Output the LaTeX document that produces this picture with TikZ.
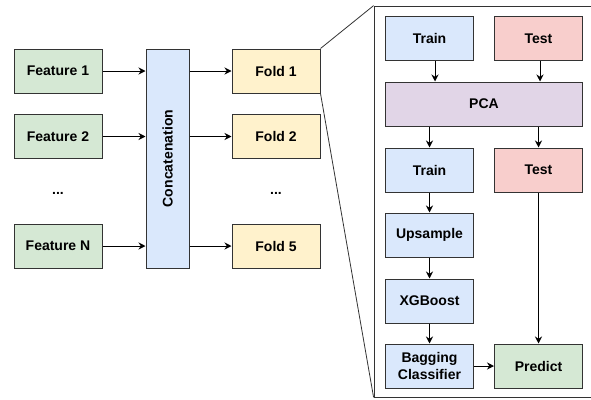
\documentclass[tikz,border=0pt]{standalone}
\usepackage{fontspec}
\setmainfont{Liberation Sans}
\usetikzlibrary{arrows.meta}
\definecolor{fgreen}{HTML}{D5E8D4}
\definecolor{fblue}{HTML}{DAE8FC}
\definecolor{fyellow}{HTML}{FFF2CC}
\definecolor{fred}{HTML}{F8CECC}
\definecolor{fpurple}{HTML}{E1D5E7}
\definecolor{edge}{HTML}{333333}
\tikzset{
  labelfont/.style={font=\fontsize{14}{16.5}\selectfont\bfseries},
  box/.style={draw=edge, line width=1pt, inner sep=0pt, align=center,
    labelfont, text=black},
  small/.style={box, minimum width=88pt, minimum height=44pt},
  feat/.style={small, fill=fgreen},
  fold/.style={small, fill=fyellow},
  trainbox/.style={small, fill=fblue},
  testbox/.style={small, fill=fred},
  predbox/.style={small, fill=fgreen},
  arr/.style={draw=black, line width=1pt, -{Stealth[length=7pt,width=7pt]}},
  zoomline/.style={draw=edge, line width=0.8pt},
  dots/.style={labelfont}
}
\begin{document}
\begin{tikzpicture}[x=1pt,y=-1pt]
\useasboundingbox (0,0) rectangle (591,399);

% feature blocks
\node[feat] (f1) at (58,71) {Feature 1};
\node[feat] (f2) at (58,136.5) {Feature 2};
\node[dots] (fd) at (58,193) {...};
\node[feat] (fn) at (58,246) {Feature N};

% concatenation bar
\node[box, fill=fblue, minimum width=43pt, minimum height=219pt] (cat) at (167.5,158.5) {};
\node[rotate=90, labelfont] (catl) at (cat) {Concatenation};

% folds
\node[fold] (o1) at (276,71) {Fold 1};
\node[fold] (o2) at (276,136.5) {Fold 2};
\node[dots] (od) at (276,193) {...};
\node[fold] (o5) at (276,246) {Fold 5};

\foreach \a in {f1,f2,fn} \draw[arr] (\a.east) -- (\a.east -| cat.west);
\foreach \b in {o1,o2,o5} \draw[arr] (cat.east |- \b.west) -- (\b.west);

% detail panel for one fold
\node[draw=edge, line width=0.8pt, minimum width=219pt, minimum height=391pt, inner sep=0pt] (panel) at (483.5,201.5) {};
\draw[zoomline] (o1.north east) -- (panel.north west);
\draw[zoomline] (o1.south east) -- (panel.south west);

\node[trainbox] (tr1) at (429.5,38.5) {Train};
\node[testbox] (te1) at (538.5,38.5) {Test};
\node[box, fill=fpurple, minimum width=197pt, minimum height=44pt] (pca) at (484,104) {PCA};
\node[trainbox] (tr2) at (429.5,170) {Train};
\node[testbox] (te2) at (538.5,170) {Test};
\node[trainbox] (up) at (429.5,235) {Upsample};
\node[trainbox] (xgb) at (429.5,301) {XGBoost};
\node[trainbox] (bag) at (429.5,366) {Bagging\\Classifier};
\node[predbox] (pred) at (538.5,366) {Predict};

\draw[arr] ([xshift=5.5pt]tr1.south) -- ([xshift=5.5pt]tr1.south |- pca.north);
\draw[arr] ([xshift=1.5pt]te1.south) -- ([xshift=1.5pt]te1.south |- pca.north);
\draw[arr] (pca.south -| tr2.north) -- (tr2.north);
\draw[arr] (pca.south -| te2.north) -- (te2.north);
\draw[arr] (tr2) -- (up);
\draw[arr] (up) -- (xgb);
\draw[arr] (xgb) -- (bag);
\draw[arr] (te2) -- (pred);
\draw[arr] (bag) -- (pred);
\end{tikzpicture}
\end{document}
